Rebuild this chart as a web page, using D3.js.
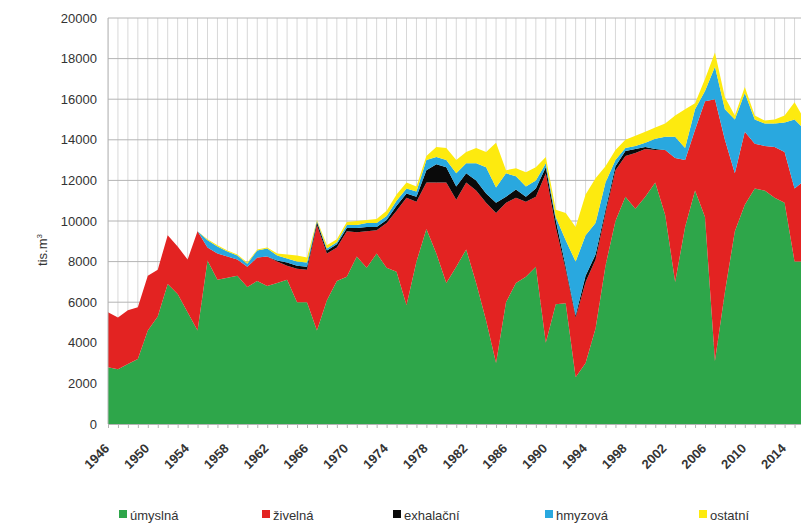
<!DOCTYPE html>
<html><head><meta charset="utf-8">
<script src="https://cdn.jsdelivr.net/npm/d3@7"></script>
<style>
html,body{margin:0;padding:0;background:#fff;}
svg{display:block;}
text{font-family:"Liberation Sans","Open Sans",sans-serif;}
</style></head>
<body><svg id="c" width="801" height="523"></svg>
<script>
const years = d3.range(1946, 2017);
const seriesNames = ["úmyslná","živelná","exhalační","hmyzová","ostatní"];
const colors = ["#2ea64a","#e32322","#0a0a0a","#29a8df","#fdea0f"];
const yTicks = [0,2000,4000,6000,8000,10000,12000,14000,16000,18000,20000];
const xTickYears = [1946,1950,1954,1958,1962,1966,1970,1974,1978,1982,1986,1990,1994,1998,2002,2006,2010,2014];

const umyslna = [2800,2700,2950,3200,4600,5300,6900,6400,5500,4600,
  8050,7100,7200,7300,6750,7050,6800,6950,7100,6000,
  6000,4600,6100,7050,7250,8250,7700,8400,7700,7500,
  5850,8000,9600,8400,6950,7750,8600,6950,5100,3000,
  6000,6950,7250,7750,4000,5900,5950,2300,3000,4700,
  7800,10000,11200,10600,11200,11900,10300,7000,9700,11500,
  10200,3100,6500,9500,10800,11600,11500,11150,10900,8000,8000];
const zivelna = [2700,2550,2650,2550,2700,2300,2400,2350,2600,4900,
  650,1300,1050,800,1000,1150,1450,1050,700,1650,
  1600,5200,2300,1650,2250,1200,1800,1150,2200,3000,
  5300,2950,2300,3500,4950,3300,3300,4550,5800,7400,
  4900,4200,3700,3450,8350,3800,1650,2950,4000,3400,
  2600,2500,2000,2750,2350,1600,3200,6100,3300,3000,
  5700,12900,7500,2850,3600,2200,2200,2500,2500,3600,4000];
const exhalacni = [0,0,0,0,0,0,0,0,0,0,
  0,0,0,0,0,0,0,50,150,150,
  150,150,150,150,150,200,200,150,150,250,
  200,250,600,900,750,650,450,500,450,500,
  300,400,250,400,300,350,150,100,300,250,
  150,200,250,200,100,50,0,0,0,0,
  0,0,0,0,0,0,0,0,0,0,0];
const hmyzova = [0,0,0,0,0,0,0,0,0,0,
  350,350,250,200,150,350,400,250,200,200,
  200,50,100,100,150,150,200,200,200,250,
  250,250,500,350,350,650,500,850,1300,750,
  1150,650,500,400,200,150,1300,2650,2000,1550,
  1350,300,150,150,200,500,650,1050,600,1000,
  500,1600,1500,2650,1900,1200,1100,1150,1450,3400,2500];
const ostatni = [0,0,0,0,0,0,0,0,0,0,
  50,50,50,50,50,50,50,100,200,300,
  250,50,150,150,150,200,150,200,250,300,
  300,250,200,500,600,650,550,750,750,2200,
  150,400,700,650,300,350,1350,1700,2000,2200,
  800,500,400,500,550,550,650,1050,1900,300,
  600,700,600,200,300,200,150,200,350,850,500];

const seriesValues = [umyslna, zivelna, exhalacni, hmyzova, ostatni];
const table = years.map((yr,i)=>{
  const o = {year: yr};
  seriesNames.forEach((k,j)=>{ o[k] = seriesValues[j][i]; });
  return o;
});

const svg = d3.select("#c");
const pLeft = 108, pRight = 801, pTop = 18, pBottom = 424;
const x = d3.scaleLinear().domain([1946, 2016]).range([pLeft, pLeft + 70*9.95]);
const y = d3.scaleLinear().domain([0, 20000]).range([pBottom, pTop]);

svg.append("defs").append("clipPath").attr("id","clip")
  .append("rect").attr("x",pLeft).attr("y",pTop-2).attr("width",pRight-pLeft).attr("height",pBottom-pTop+4);

// vertical gridlines (each year)
svg.append("g").selectAll("line").data(years).join("line")
  .attr("x1",d=>x(d)).attr("x2",d=>x(d)).attr("y1",pTop).attr("y2",pBottom)
  .attr("stroke","#d8d8d8").attr("stroke-width",1).attr("clip-path","url(#clip)");
// horizontal gridlines
svg.append("g").selectAll("line").data(yTicks).join("line")
  .attr("x1",pLeft).attr("x2",pRight).attr("y1",d=>y(d)).attr("y2",d=>y(d))
  .attr("stroke","#b4b4b4").attr("stroke-width",1);

const stack = d3.stack().keys(seriesNames);
const layers = stack(table);
const area = d3.area().x(d=>x(d.data.year)).y0(d=>y(d[0])).y1(d=>y(d[1]));
svg.append("g").attr("clip-path","url(#clip)").selectAll("path").data(layers).join("path")
  .attr("d",area).attr("fill",(d,i)=>colors[i]);

// axes lines
svg.append("line").attr("x1",pLeft).attr("x2",pLeft).attr("y1",pTop).attr("y2",pBottom).attr("stroke","#b4b4b4");
const xAxis = d3.axisBottom(x).tickValues(years).tickSize(4).tickFormat("");
const gx = svg.append("g").attr("transform",`translate(0,${pBottom})`).call(xAxis);
gx.select(".domain").attr("stroke","#b4b4b4");
gx.selectAll(".tick line").attr("stroke","#b4b4b4");
gx.selectAll(".tick").filter(d=>x(d)>pRight).remove();

// y axis labels
const yAxis = d3.axisLeft(y).tickValues(yTicks).tickSize(0).tickPadding(11).tickFormat(d3.format("d"));
const gy = svg.append("g").attr("transform",`translate(${pLeft},0)`).call(yAxis);
gy.select(".domain").remove();
gy.selectAll("text").attr("font-size",13).attr("fill","#333").style("font-family",'"Liberation Sans",sans-serif');

// x labels rotated
svg.append("g").selectAll("text").data(xTickYears).join("text")
  .attr("transform",d=>`translate(${x(d)-1},${pBottom+22}) rotate(-45)`)
  .attr("text-anchor","end").attr("font-size",13).attr("font-weight","bold").attr("fill","#333").attr("dy","0.35em")
  .text(d=>d);

// y title
svg.append("text").attr("transform","translate(47,250) rotate(-90)").attr("text-anchor","middle")
  .attr("font-size",13).attr("fill","#333").html('tis.m<tspan dy="-5" font-size="8">3</tspan>');

// legend
const legX = [119, 262, 393, 545, 699];
const lg = svg.append("g").selectAll("g").data(seriesNames).join("g")
  .attr("transform",(d,i)=>`translate(${legX[i]},515)`);
lg.append("rect").attr("x",0).attr("y",-5).attr("width",8).attr("height",8).attr("fill",(d,i)=>colors[i]);
lg.append("text").attr("x",11).attr("y",0).attr("dy","0.35em").attr("font-size",13).attr("fill","#333").text(d=>d);
</script></body></html>
